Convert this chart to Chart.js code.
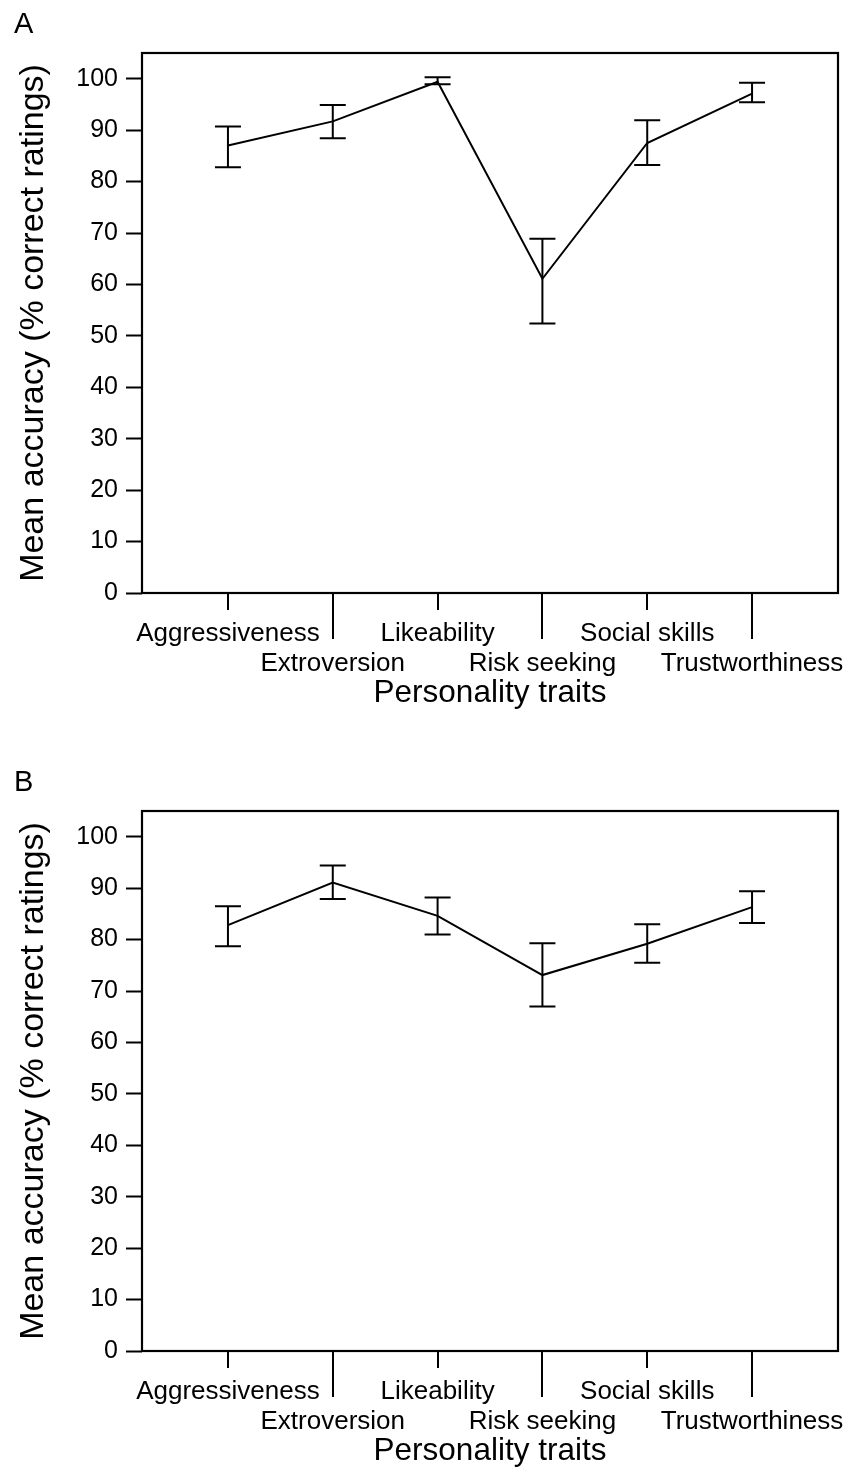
<!DOCTYPE html>
<html>
<head>
<meta charset="utf-8">
<title>Mean accuracy by personality trait</title>
<script src="https://cdn.jsdelivr.net/npm/chart.js@4.4.0/dist/chart.umd.min.js"></script>
<style>
    html, body { margin: 0; padding: 0; background: #fff; }
    body { width: 851px; height: 1474px; overflow: hidden; position: relative; }
    canvas { position: absolute; left: 0; }
    #chartA { top: 0; }
    #chartB { top: 758px; }
</style>
</head>
<body>
<canvas id="chartA" width="851" height="758"></canvas>
<canvas id="chartB" width="851" height="758"></canvas>

<script>
// --- data ---
const categories = ['Aggressiveness', 'Extroversion', 'Likeability', 'Risk seeking', 'Social skills', 'Trustworthiness'];

const meanA = [87.0, 91.7, 99.4, 61.1, 87.5, 97.1];
const lowA  = [82.8, 88.4, 98.9, 52.4, 83.2, 95.4];
const highA = [90.7, 94.9, 100.3, 68.9, 91.9, 99.2];

const meanB = [82.8, 91.1, 84.6, 73.1, 79.2, 86.3];
const lowB  = [78.7, 87.9, 81.0, 67.0, 75.5, 83.2];
const highB = [86.5, 94.4, 88.2, 79.3, 83.0, 89.4];

const yTicks = [0, 10, 20, 30, 40, 50, 60, 70, 80, 90, 100];

const FONT = "'Liberation Sans', Arial, Helvetica, sans-serif";

document.addEventListener('DOMContentLoaded', function () {

    Chart.defaults.font.family = FONT;
    Chart.defaults.color = '#000';

    function makeChart(canvasId, letter, means, lows, highs) {

        // box, alternating x tick marks and panel letter
        const frame = {
            id: 'frame',
            afterDraw(chart) {
                const { ctx, chartArea: a, scales: { x } } = chart;
                ctx.save();
                ctx.strokeStyle = '#000';
                ctx.lineWidth = 2.2;
                ctx.strokeRect(a.left, a.top, a.right - a.left, a.bottom - a.top);

                ctx.lineWidth = 2;
                ctx.beginPath();
                categories.forEach((c, i) => {
                    const px = Math.round(x.getPixelForValue(i));
                    const len = i % 2 === 0 ? 17 : 46;
                    ctx.moveTo(px, a.bottom);
                    ctx.lineTo(px, a.bottom + len);
                });
                ctx.stroke();

                ctx.fillStyle = '#000';
                ctx.font = '29px ' + FONT;
                ctx.textAlign = 'left';
                ctx.textBaseline = 'alphabetic';
                ctx.fillText(letter, 14, 33);
                ctx.restore();
            }
        };

        // error bars with caps
        const errorBars = {
            id: 'errorBars',
            afterDatasetsDraw(chart) {
                const { ctx, scales: { x, y } } = chart;
                ctx.save();
                ctx.strokeStyle = '#000';
                ctx.lineWidth = 2;
                ctx.beginPath();
                lows.forEach((lo, i) => {
                    const px = x.getPixelForValue(i);
                    const top = y.getPixelForValue(highs[i]);
                    const bot = y.getPixelForValue(lo);
                    ctx.moveTo(px, top);
                    ctx.lineTo(px, bot);
                    ctx.moveTo(px - 13, top);
                    ctx.lineTo(px + 13, top);
                    ctx.moveTo(px - 13, bot);
                    ctx.lineTo(px + 13, bot);
                });
                ctx.stroke();
                ctx.restore();
            }
        };

        return new Chart(document.getElementById(canvasId), {
            type: 'line',
            data: {
                datasets: [{
                    data: means.map((v, i) => ({ x: i, y: v })),
                    borderColor: '#000',
                    borderWidth: 2,
                    pointRadius: 0,
                    tension: 0,
                    fill: false
                }]
            },
            options: {
                responsive: false,
                animation: false,
                devicePixelRatio: 1,
                layout: { padding: { top: 53, right: 13, left: 0, bottom: 0 } },
                plugins: {
                    legend: { display: false },
                    tooltip: { enabled: false }
                },
                scales: {
                    x: {
                        type: 'linear',
                        min: -0.82,
                        max: 5.82,
                        afterBuildTicks: s => { s.ticks = categories.map((c, i) => ({ value: i })); },
                        afterFit: s => { s.height = 165; s.paddingLeft = 0; s.paddingRight = 0; },
                        grid: { display: false, drawTicks: false },
                        border: { display: false },
                        ticks: {
                            autoSkip: false,
                            maxRotation: 0,
                            minRotation: 0,
                            padding: 26,
                            color: '#000',
                            font: { size: 26, lineHeight: '30px' },
                            callback: (v, i) => i % 2 === 0 ? [categories[i], ''] : ['', categories[i]]
                        },
                        title: {
                            display: true,
                            text: 'Personality traits',
                            color: '#000',
                            font: { size: 31.5, lineHeight: 1.2 },
                            padding: { top: 0, bottom: 46 }
                        }
                    },
                    y: {
                        min: 0,
                        max: 105,
                        afterBuildTicks: s => { s.ticks = yTicks.map(v => ({ value: v })); },
                        afterFit: s => { s.width = 142; s.paddingTop = 0; s.paddingBottom = 0; },
                        grid: {
                            drawOnChartArea: false,
                            drawTicks: true,
                            tickLength: 16,
                            tickWidth: 2,
                            tickColor: '#000'
                        },
                        border: { display: false },
                        ticks: { padding: 8, color: '#000', font: { size: 25 } },
                        title: {
                            display: true,
                            text: 'Mean accuracy (% correct ratings)',
                            color: '#000',
                            font: { size: 34, lineHeight: 1.2 },
                            padding: { top: 13, bottom: 0 }
                        }
                    }
                }
            },
            plugins: [errorBars, frame]
        });
    }

    try {
        makeChart('chartA', 'A', meanA, lowA, highA);
        makeChart('chartB', 'B', meanB, lowB, highB);
    } catch (e) {
        console.error("Chart.js initialization failed:", e);
    }
});
</script>
</body>
</html>
